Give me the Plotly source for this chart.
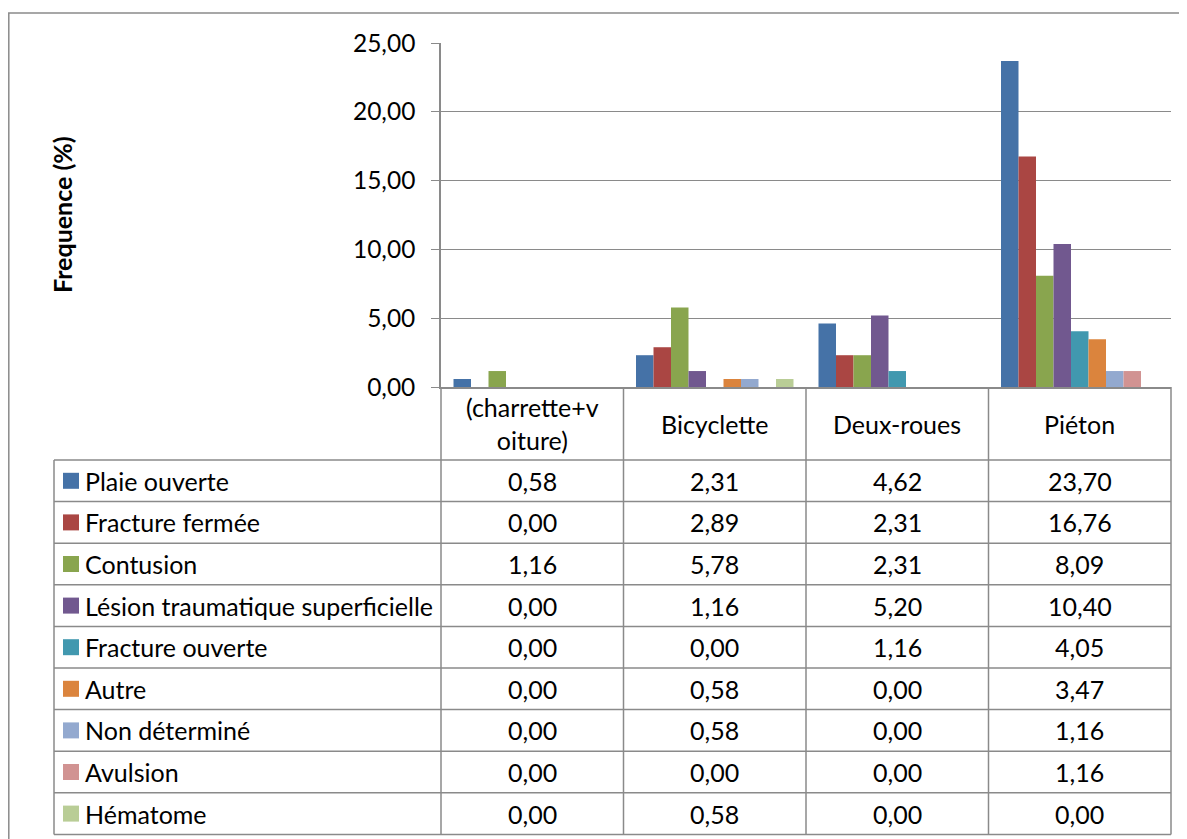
import plotly.graph_objects as go

categories = ["(charrette+v<br>oiture)", "Bicyclette", "Deux-roues", "Piéton"]
series_names = ["Plaie ouverte", "Fracture fermée", "Contusion",
                "Lésion traumatique superficielle", "Fracture ouverte", "Autre",
                "Non déterminé", "Avulsion", "Hématome"]
plaie_ouverte = [0.58, 2.31, 4.62, 23.70]
fracture_fermee = [0.00, 2.89, 2.31, 16.76]
contusion = [1.16, 5.78, 2.31, 8.09]
lesion_superficielle = [0.00, 1.16, 5.20, 10.40]
fracture_ouverte = [0.00, 0.00, 1.16, 4.05]
autre = [0.00, 0.58, 0.00, 3.47]
non_determine = [0.00, 0.58, 0.00, 1.16]
avulsion = [0.00, 0.00, 0.00, 1.16]
hematome = [0.00, 0.58, 0.00, 0.00]
series_values = [plaie_ouverte, fracture_fermee, contusion, lesion_superficielle,
                 fracture_ouverte, autre, non_determine, avulsion, hematome]
colors = ["#4572A7", "#AA4643", "#89A54E", "#71588F", "#4198AF",
          "#DB843D", "#93A9CF", "#D19392", "#B9CD96"]
y_ticks = [0, 5, 10, 15, 20, 25]
y_title = "Frequence (%)"

W, H = 1187, 839
OFF = 8  # page body margin compensation
FONT = "Lato"
FS = 25
TFS = 24.5
LINE = "#8a8a8a"

# layout geometry (screen pixels)
PX0, PX1 = 441, 1171
PY_TOP, PY_BOT = 43, 387
HEAD_BOT = 460
ROW_H = 41.6
TAB_L = 54


def fx(x):
    return (x - OFF) / W


def fy(y):
    return 1 - (y - OFF) / H


def fmt(v):
    return f"{v:.2f}".replace(".", ",")


fig = go.Figure()
xs = list(range(len(categories)))
for name, vals, col in zip(series_names, series_values, colors):
    fig.add_trace(go.Bar(x=xs, y=vals, name=name, marker=dict(color=col, line=dict(width=0)),
                         showlegend=False))

shapes = []
ann = []

# outer chart border
shapes.append(dict(type="rect", xref="paper", yref="paper", x0=0.8 / W, x1=fx(W + 20),
                   y0=fy(H + 20), y1=fy(13), line=dict(color=LINE, width=1.5)))

ncat = len(categories)
col_w = (PX1 - PX0) / ncat
edges = [PX0 + i * col_w for i in range(ncat + 1)]
nrows = len(series_names)
tab_bot = HEAD_BOT + nrows * ROW_H

# header verticals
for e in edges:
    shapes.append(dict(type="line", xref="paper", yref="paper", x0=fx(e), x1=fx(e),
                       y0=fy(PY_BOT), y1=fy(HEAD_BOT), line=dict(color=LINE, width=1.5)))
# table verticals
for e in [TAB_L] + edges:
    shapes.append(dict(type="line", xref="paper", yref="paper", x0=fx(e), x1=fx(e),
                       y0=fy(HEAD_BOT), y1=fy(tab_bot), line=dict(color=LINE, width=1.5)))
# table horizontals
for r in range(nrows + 1):
    yy = HEAD_BOT + r * ROW_H
    shapes.append(dict(type="line", xref="paper", yref="paper", x0=fx(TAB_L), x1=fx(PX1),
                       y0=fy(yy), y1=fy(yy), line=dict(color=LINE, width=1.5)))

# header labels
for i, c in enumerate(categories):
    ann.append(dict(xref="paper", yref="paper", x=fx(edges[i] + col_w / 2),
                    y=fy((PY_BOT + HEAD_BOT) / 2), text=c, showarrow=False,
                    font=dict(family=FONT, size=FS, color="black"),
                    xanchor="center", yanchor="middle"))

# rows
for r, (name, vals, col) in enumerate(zip(series_names, series_values, colors)):
    yc = HEAD_BOT + (r + 0.5) * ROW_H
    shapes.append(dict(type="rect", xref="paper", yref="paper", x0=fx(63), x1=fx(79),
                       y0=fy(yc + 8), y1=fy(yc - 8), fillcolor=col, line=dict(width=0)))
    ann.append(dict(xref="paper", yref="paper", x=fx(83), y=fy(yc), text=name,
                    showarrow=False, font=dict(family=FONT, size=FS, color="black"),
                    xanchor="left", yanchor="middle"))
    for i, v in enumerate(vals):
        ann.append(dict(xref="paper", yref="paper", x=fx(edges[i] + col_w / 2), y=fy(yc),
                        text=fmt(v), showarrow=False,
                        font=dict(family=FONT, size=FS, color="black"),
                        xanchor="center", yanchor="middle"))

# y title
ann.append(dict(xref="paper", yref="paper", x=fx(62), y=fy((PY_TOP + PY_BOT) / 2),
                text=f"<b>{y_title}</b>", textangle=-90, showarrow=False,
                font=dict(family=FONT, size=FS, color="black"),
                xanchor="center", yanchor="middle"))

fig.update_layout(
    width=W, height=H,
    margin=dict(l=0, r=0, t=0, b=0, autoexpand=False),
    paper_bgcolor="white", plot_bgcolor="white",
    barmode="group", bargap=25 / col_w, bargroupgap=0,
    separators=", ",
    shapes=shapes, annotations=ann,
    font=dict(family=FONT, size=FS, color="black"),
    xaxis=dict(domain=[fx(PX0), fx(PX1)], range=[-0.5, ncat - 0.5], showticklabels=False,
               showgrid=False, zeroline=False, showline=True, linecolor=LINE, linewidth=1.5,
               ticks="", automargin=False),
    yaxis=dict(domain=[fy(PY_BOT), fy(PY_TOP)], range=[0, 25], tickvals=y_ticks,
               tickformat=".2f", showgrid=True, gridcolor=LINE, gridwidth=1.2,
               zeroline=False, showline=True, linecolor=LINE, linewidth=1.5,
               ticks="outside", ticklen=8, tickcolor=LINE, ticklabelstandoff=11,
               automargin=False,
               tickfont=dict(family=FONT, size=TFS, color="black")),
)

fig.write_html("out.html")
